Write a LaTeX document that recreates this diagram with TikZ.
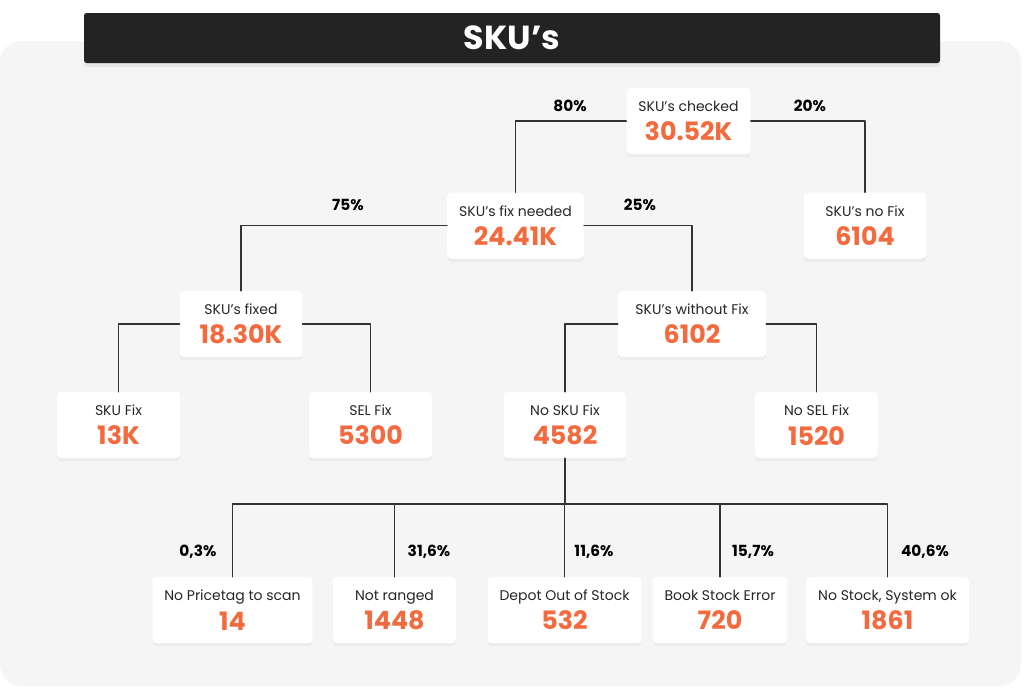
\documentclass[tikz,border=0pt]{standalone}
\usepackage{fontspec}
\setmainfont{Poppins}
\usetikzlibrary{positioning}
\usetikzlibrary{shadows}
\definecolor{bggray}{HTML}{F5F5F5}
\definecolor{barcol}{HTML}{232323}
\definecolor{valcol}{HTML}{F26A3D}
\definecolor{linecol}{HTML}{333333}
\newcommand{\skuval}[1]{{\fontsize{19}{22}\selectfont\bfseries\color{valcol}#1}}

\begin{document}
\begin{tikzpicture}[x=0.75pt,y=-0.75pt,line cap=round,line join=round,
  box/.style={fill=white,rounded corners=3pt,minimum width=92pt,minimum height=49.5pt,inner xsep=9pt,
    align=center,font=\fontsize{10.5}{22}\selectfont,text=black!85,
    execute at begin node=\rule{0pt}{10.5pt},
    drop shadow={opacity=0.07,shadow xshift=0pt,shadow yshift=-2.5pt}},
  pct/.style={font=\fontsize{11.5}{13}\selectfont\bfseries,text=black},
  conn/.style={draw=linecol,line width=1.2pt}]
\useasboundingbox (0,0) rectangle (1024,687);
\fill[bggray,rounded corners=16pt] (0,41) rectangle (1021,686);
\fill[barcol,rounded corners=2pt,drop shadow={opacity=0.12,shadow xshift=0pt,shadow yshift=-3pt}] (84,13) rectangle (940,63);
\node[font=\fontsize{25}{30}\selectfont\bfseries,text=white] (title) at (512,38) {SKU’s};

\node[box] (chk) at (688.5,121) {SKU’s checked\\\skuval{30.52K}};
\node[box] (need) at (515.5,225.5) {SKU’s fix needed\\\skuval{24.41K}};
\node[box] (nofix) at (865,225.5) {SKU’s no Fix\\\skuval{6104}};
\node[box] (fixed) at (241,324) {SKU’s fixed\\\skuval{18.30K}};
\node[box,minimum width=111pt] (without) at (692,324) {SKU’s without Fix\\\skuval{6102}};
\node[box] (skufix) at (118.5,425) {SKU Fix\\\skuval{13K}};
\node[box] (selfix) at (370.5,425) {SEL Fix\\\skuval{5300}};
\node[box] (noskufix) at (565,425) {No SKU Fix\\\skuval{4582}};
\node[box] (noselfix) at (816.5,425) {No SEL Fix\\\skuval{1520}};
\node[box] (tag) at (232.5,610) {No Pricetag to scan\\\skuval{14}};
\node[box] (rng) at (394.5,610) {Not ranged\\\skuval{1448}};
\node[box] (depot) at (564.5,610) {Depot Out of Stock\\\skuval{532}};
\node[box] (book) at (720,610) {Book Stock Error\\\skuval{720}};
\node[box] (nostock) at (887.5,610) {No Stock, System ok\\\skuval{1861}};

\draw[conn] (chk.west) -| (need.north);
\draw[conn] (chk.east) -| (nofix.north);
\draw[conn] (need.west) -| (fixed.north);
\draw[conn] (need.east) -| (without.north);
\draw[conn] (fixed.west) -| (skufix.north);
\draw[conn] (fixed.east) -| (selfix.north);
\draw[conn] (without.west) -| (noskufix.north);
\draw[conn] (without.east) -| (noselfix.north);
\coordinate (bus) at (565,504);
\draw[conn] (noskufix.south) -- (bus);
\foreach \n in {tag,rng,depot,book,nostock}
\draw[conn] (bus) -| (\n.north);

\node[pct] (p80) at (570,106) {80\%};
\node[pct] (p20) at (810,106) {20\%};
\node[pct] (p75) at (348,205) {75\%};
\node[pct] (p25) at (640,205) {25\%};
\node[pct] (p03) at (198,552) {0,3\%};
\node[pct] (p316) at (429,552) {31,6\%};
\node[pct] (p116) at (594,552) {11,6\%};
\node[pct] (p157) at (753,552) {15,7\%};
\node[pct] (p406) at (925,552) {40,6\%};
\end{tikzpicture}
\end{document}
